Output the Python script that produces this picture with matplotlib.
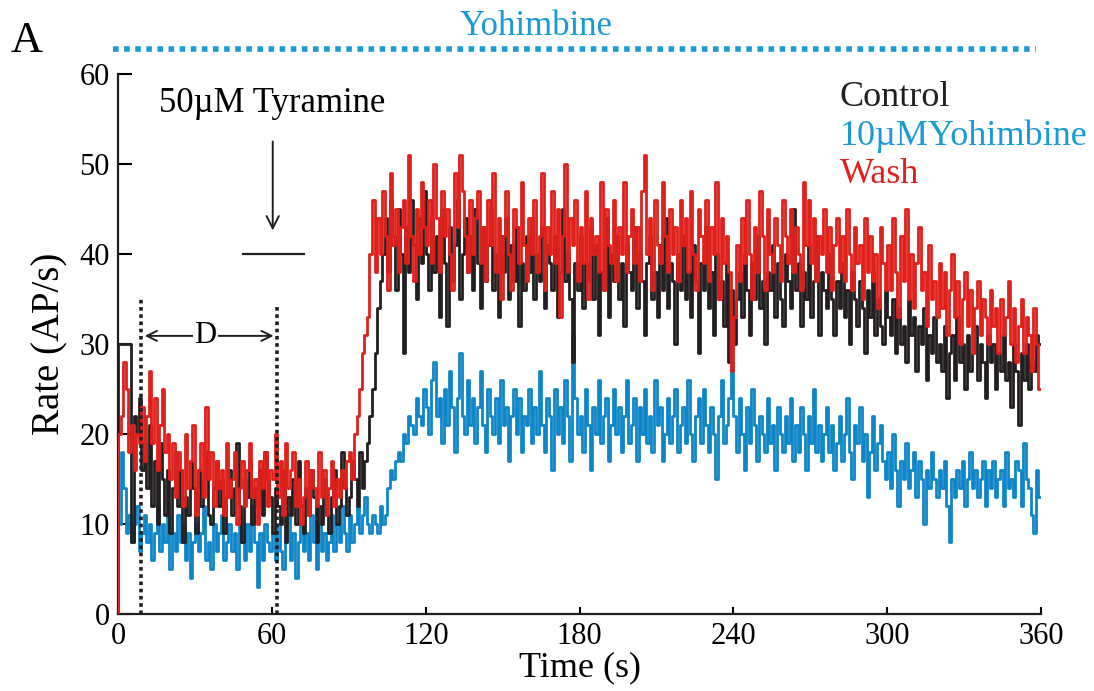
import numpy as np
import matplotlib.pyplot as plt

plt.rcParams['font.family'] = ['Liberation Serif', 'DejaVu Serif']

# firing rate per 1 s bin (AP/s), 0-360 s
control = [
    30, 30, 30, 30, 30, 8, 22, 20, 24, 16, 19, 14, 21, 12, 17, 10, 19, 15, 11, 16,
    9, 14, 18, 12, 16, 8, 13, 11, 17, 14, 9, 16, 12, 15, 18, 11, 10, 14, 17, 12,
    15, 9, 13, 16, 11, 14, 19, 12, 8, 15, 13, 17, 10, 14, 12, 16, 11, 18, 15, 13,
    9, 14, 12, 10, 16, 8, 13, 11, 15, 10, 17, 12, 9, 14, 11, 16, 13, 8, 12, 10,
    15, 11, 9, 13, 16, 10, 12, 18, 14, 11, 13, 17, 15, 12, 18, 14, 17, 19, 22, 25,
    29, 34, 37, 40, 44, 38, 46, 42, 36, 45, 40, 29, 43, 38, 46, 41, 35, 44, 39, 47,
    40, 36, 44, 38, 42, 33, 45, 39, 32, 43, 37, 41, 46, 35, 40, 44, 38, 42, 36, 45,
    39, 34, 43, 37, 41, 45, 36, 40, 33, 42, 38, 44, 35, 41, 37, 43, 32, 39, 36, 42,
    38, 44, 35, 40, 37, 43, 34, 41, 39, 36, 42, 33, 38, 45, 37, 40, 35, 28, 39, 36,
    42, 34, 39, 37, 43, 35, 41, 31, 38, 36, 44, 33, 40, 37, 42, 35, 39, 32, 41, 38,
    36, 43, 34, 40, 37, 31, 39, 42, 35, 38, 33, 41, 36, 44, 34, 39, 37, 30, 40, 36,
    42, 35, 38, 33, 41, 37, 29, 39, 36, 43, 34, 38, 31, 40, 35, 37, 32, 39, 28, 36,
    30, 35, 38, 33, 40, 36, 31, 39, 35, 42, 34, 37, 30, 38, 36, 41, 33, 39, 35, 32,
    40, 37, 34, 45, 36, 39, 32, 38, 35, 41, 33, 37, 42, 31, 38, 36, 34, 40, 35, 31,
    37, 34, 39, 33, 36, 30, 38, 35, 32, 37, 34, 29, 36, 33, 38, 31, 35, 32, 30, 36,
    33, 31, 35, 29, 34, 30, 32, 28, 35, 31, 33, 27, 32, 30, 34, 26, 31, 29, 33, 28,
    30, 27, 32, 24, 29, 31, 26, 33, 28, 30, 25, 31, 27, 29, 32, 26, 30, 28, 24, 31,
    28, 30, 25, 29, 27, 31, 26, 28, 23, 30, 27, 21, 29, 26, 30, 25, 28, 27, 31, 30,
]
yohimbine = [
    10, 18, 14, 9, 11, 8, 10, 12, 7, 9, 11, 8, 10, 6, 9, 12, 7, 10, 8, 11,
    5, 9, 7, 11, 8, 10, 6, 9, 4, 8, 10, 7, 9, 12, 6, 8, 5, 10, 7, 9,
    11, 6, 8, 10, 7, 9, 5, 11, 8, 6, 10, 7, 12, 8, 3, 9, 6, 10, 8, 7,
    9, 6, 10, 7, 5, 8, 11, 6, 9, 4, 8, 10, 7, 9, 6, 11, 8, 5, 10, 7,
    9, 6, 8, 11, 7, 10, 8, 12, 9, 7, 11, 8, 10, 12, 9, 11, 13, 10, 9, 11,
    10, 9, 12, 10, 11, 14, 16, 15, 17, 18, 17, 20, 19, 22, 21, 20, 24, 22, 21, 25,
    23, 20, 26, 28, 22, 24, 19, 25, 21, 27, 23, 18, 24, 29, 22, 20, 26, 21, 24, 19,
    23, 27, 21, 18, 25, 22, 20, 24, 19, 26, 21, 23, 17, 22, 25, 20, 24, 18, 22, 21,
    25, 19, 23, 20, 27, 21, 18, 24, 22, 16, 25, 20, 23, 19, 26, 22, 17, 31, 24, 20,
    22, 18, 25, 21, 16, 23, 20, 26, 19, 22, 24, 17, 21, 25, 20, 23, 18, 22, 26, 19,
    21, 24, 17, 23, 20, 25, 19, 22, 18, 26, 21, 23, 17, 20, 24, 19, 22, 25, 18, 21,
    23, 19, 26, 20, 17, 22, 24, 19, 25, 21, 18, 23, 20, 15, 22, 26, 19, 21, 24, 28,
    22, 18, 24, 20, 16, 23, 19, 25, 21, 17, 22, 20, 18, 24, 19, 21, 16, 23, 20, 18,
    22, 19, 24, 17, 21, 18, 23, 20, 16, 22, 19, 25, 18, 21, 17, 20, 23, 18, 21, 16,
    19, 22, 17, 20, 24, 18, 15, 21, 19, 23, 17, 20, 13, 18, 22, 16, 19, 21, 17, 15,
    18, 14, 20, 16, 12, 17, 15, 19, 14, 16, 18, 13, 17, 15, 10, 16, 14, 18, 15, 13,
    16, 14, 17, 12, 8, 15, 13, 16, 14, 17, 12, 15, 18, 14, 16, 13, 15, 17, 12, 16,
    14, 17, 13, 15, 16, 12, 18, 14, 15, 13, 17, 16, 12, 19, 15, 14, 11, 9, 16, 13,
]
wash = [
    20, 22, 28, 25, 18, 21, 16, 20, 19, 23, 17, 22, 27, 19, 24, 16, 21, 25, 18, 20,
    15, 19, 13, 18, 16, 12, 20, 14, 17, 21, 11, 16, 19, 13, 23, 15, 18, 12, 17, 14,
    16, 11, 19, 13, 15, 18, 10, 14, 17, 12, 16, 19, 13, 15, 10, 17, 14, 18, 12, 16,
    15, 20, 13, 17, 11, 19, 14, 16, 18, 12, 15, 10, 13, 17, 11, 16, 14, 12, 18, 13,
    16, 11, 14, 17, 12, 15, 13, 16, 14, 17, 18, 15, 20, 22, 25, 29, 31, 33, 40, 46,
    38, 44, 40, 47, 42, 36, 49, 41, 45, 38, 43, 46, 39, 51, 42, 37, 45, 40, 48, 43,
    41, 46, 39, 50, 44, 38, 47, 42, 45, 40, 36, 49, 43, 51, 47, 42, 38, 46, 40, 44,
    47, 39, 43, 37, 46, 41, 49, 38, 44, 35, 42, 47, 40, 36, 45, 43, 39, 48, 41, 37,
    44, 40, 46, 38, 42, 49, 36, 43, 40, 47, 39, 45, 33, 42, 50, 38, 44, 41, 46, 37,
    43, 39, 47, 35, 44, 40, 42, 38, 48, 36, 45, 41, 39, 46, 37, 43, 40, 48, 38, 42,
    45, 39, 43, 37, 47, 51, 40, 44, 36, 46, 41, 39, 48, 42, 38, 45, 40, 43, 37, 46,
    41, 44, 38, 47, 40, 36, 45, 42, 39, 46, 37, 43, 40, 48, 35, 44, 39, 42, 38, 27,
    33, 41, 37, 44, 39, 46, 40, 35, 43, 38, 47, 42, 36, 45, 40, 38, 44, 41, 37, 46,
    42, 39, 45, 38, 43, 40, 36, 48, 41, 46, 39, 44, 37, 42, 40, 45, 38, 43, 36, 41,
    44, 38, 42, 37, 45, 40, 36, 43, 39, 41, 35, 44, 38, 42, 37, 40, 34, 43, 39, 36,
    41, 36, 44, 38, 33, 42, 37, 45, 35, 40, 34, 39, 43, 36, 38, 32, 41, 35, 37, 33,
    39, 34, 38, 31, 36, 40, 33, 37, 30, 35, 38, 32, 36, 29, 34, 37, 31, 35, 33, 30,
    36, 32, 34, 29, 35, 31, 33, 37, 30, 34, 28, 32, 35, 29, 33, 31, 27, 34, 30, 25,
]

x_ticks = [0, 60, 120, 180, 240, 300, 360]
y_ticks = [0, 10, 20, 30, 40, 50, 60]

c_black = '#231f20'
c_blue = '#0f86c8'
c_red = '#e0201b'
c_text_blue = '#1a9ad6'

fig = plt.figure(figsize=(10.94, 6.91), dpi=100)
ax = fig.add_axes([0.108, 0.1114, 0.8436, 0.7816])

def trace(vals, color, z):
    v = np.asarray(vals, dtype=float)
    t = np.arange(len(v) + 1)
    y = np.concatenate([[0], v, [v[-1]]])
    xs = np.concatenate([[0], t])
    ax.step(xs, y, where='post', color=color, lw=2.0, zorder=z)

trace(yohimbine, c_blue, 2)
trace(control, c_black, 3)
trace(wash, c_red, 4)

ax.set_xlim(0, 360)
ax.set_ylim(0, 60)
ax.set_xticks(x_ticks)
ax.set_yticks(y_ticks)
for s in ['top', 'right']:
    ax.spines[s].set_visible(False)
for s in ['left', 'bottom']:
    ax.spines[s].set_linewidth(1.6)
    ax.spines[s].set_color(c_black)
ax.tick_params(axis='x', direction='in', length=5, width=1.5, labelsize=22, pad=6)
ax.tick_params(axis='y', direction='in', length=10, width=1.5, labelsize=22, pad=6)
ax.set_xlabel('Time (s)', fontsize=26, labelpad=0)
ax.set_ylabel('Rate (AP/s)', fontsize=28, labelpad=8)

# drug bar on top
ax.plot([-2, 358], [62.8, 62.8], ls=(0, (1, 1)), lw=4, color=c_text_blue, clip_on=False)
ax.text(163, 65.3, 'Yohimbine', color=c_text_blue, fontsize=25, ha='center', va='center')
fig.text(0.01, 0.94, 'A', fontsize=32, ha='left', va='center')

# tyramine application
ax.text(60, 56.7, '50µM Tyramine', fontsize=25, ha='center', va='center')
ax.annotate('', xy=(60.3, 42.3), xytext=(60.3, 52.8),
            arrowprops=dict(arrowstyle='->', lw=1.4, color=c_black, mutation_scale=22))
ax.plot([48.8, 72.5], [40, 40], color=c_black, lw=1.6)

# D interval
ax.plot([9, 9], [0, 35.1], ls=(0, (1, 1)), lw=2.6, color=c_black, zorder=5)
ax.plot([62, 62], [0, 34.3], ls=(0, (1, 1)), lw=2.6, color=c_black, zorder=5)
ax.annotate('', xy=(9.3, 30.9), xytext=(61.7, 30.9),
            arrowprops=dict(arrowstyle='<->', lw=1.4, color=c_black, mutation_scale=18))
ax.text(34, 30.9, 'D', fontsize=22, ha='center', va='center',
        bbox=dict(facecolor='white', edgecolor='none', pad=1))

# legend text
ax.text(281.5, 57.4, 'Control', color=c_black, fontsize=26, ha='left', va='center')
ax.text(281.5, 53.1, '10µMYohimbine', color=c_text_blue, fontsize=26, ha='left', va='center')
ax.text(281.5, 48.8, 'Wash', color=c_red, fontsize=26, ha='left', va='center')

fig.savefig('out.png', dpi=100)
